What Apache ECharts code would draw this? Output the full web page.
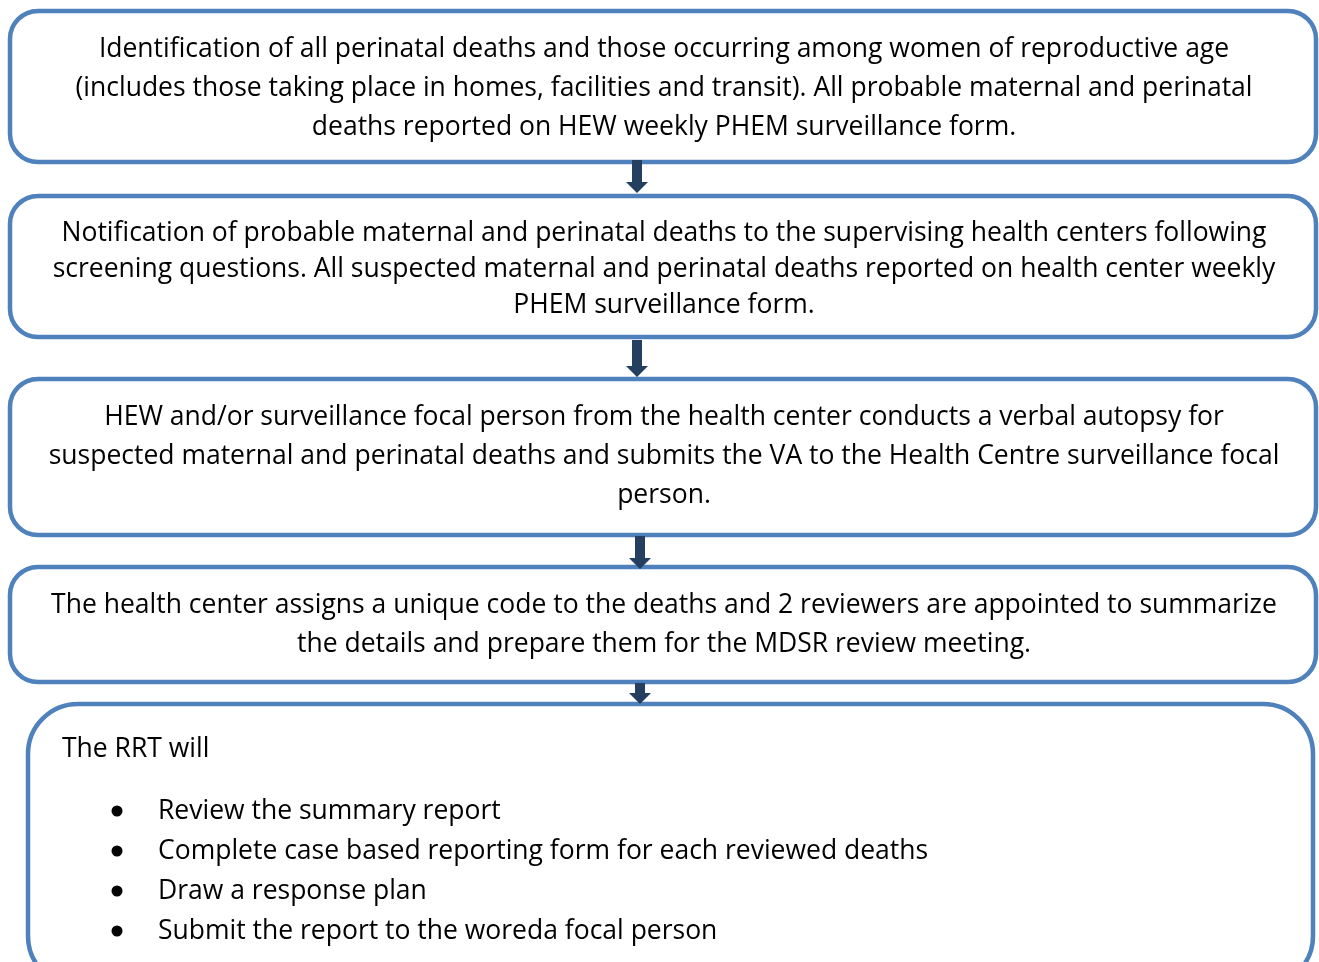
<!DOCTYPE html>
<html>
<head>
<meta charset="utf-8">
<script src="https://cdn.jsdelivr.net/npm/echarts@6/dist/echarts.min.js"></script>
<style>
html, body { margin: 0; padding: 0; background: #fff; }
#main { width: 1319px; height: 962px; }
</style>
</head>
<body>
<div id="main"></div>
<script>
// step texts, one array of lines per box
var step1 = [
    'Identification of all perinatal deaths and those occurring among women of reproductive age',
    '(includes those taking place in homes, facilities and transit). All probable maternal and perinatal',
    'deaths reported on HEW weekly PHEM surveillance form.'
];
var step2 = [
    'Notification of probable maternal and perinatal deaths to the supervising health centers following',
    'screening questions. All suspected maternal and perinatal deaths reported on health center weekly',
    'PHEM surveillance form.'
];
var step3 = [
    'HEW and/or surveillance focal person from the health center conducts a verbal autopsy for',
    'suspected maternal and perinatal deaths and submits the VA to the Health Centre surveillance focal',
    'person.'
];
var step4 = [
    'The health center assigns a unique code to the deaths and 2 reviewers are appointed to summarize',
    'the details and prepare them for the MDSR review meeting.'
];
var lastTitle = 'The RRT will';
var lastItems = [
    'Review the summary report',
    'Complete case based reporting form for each reviewed deaths',
    'Draw a response plan',
    'Submit the report to the woreda focal person'
];

var chart = echarts.init(document.getElementById('main'));

var boxColor = '#4F81BD';
var arrowColor = '#243F60';
var font = '"Open Sans"';
var fontSize = 26.5;

// box frames: [x, y, w, h, radius, first text line y, line gap]
var frames = [
    [10, 11, 1306, 151, 28, 49, 39],
    [10, 196, 1306, 141, 28, 233, 36],
    [10, 379, 1306, 156, 28, 417, 39],
    [10, 567, 1306, 115, 28, 605, 39]
];
var steps = [step1, step2, step3, step4];
// arrows: [x, top, bottom]
var arrows = [
    [637, 160, 193],
    [637, 340, 377],
    [640, 536, 569],
    [640, 683, 704]
];

var elements = [];

frames.forEach(function (f, i) {
    elements.push({
        type: 'rect',
        shape: { x: f[0], y: f[1], width: f[2], height: f[3], r: f[4] },
        style: { fill: '#fff', stroke: boxColor, lineWidth: 4.5 }
    });
    steps[i].forEach(function (line, j) {
        elements.push({
            type: 'text',
            x: f[0] + f[2] / 2 + 1,
            y: f[5] + j * f[6],
            style: {
                text: line, fill: '#000', font: fontSize + 'px ' + font,
                align: 'center', verticalAlign: 'middle'
            }
        });
    });
});

// last box, cut off at the bottom of the picture
elements.push({
    type: 'rect',
    shape: { x: 28, y: 704, width: 1285, height: 282, r: 50 },
    style: { fill: '#fff', stroke: boxColor, lineWidth: 4.5 }
});
elements.push({
    type: 'text', x: 62, y: 749,
    style: { text: lastTitle, fill: '#000', font: fontSize + 'px ' + font, verticalAlign: 'middle' }
});
lastItems.forEach(function (item, j) {
    var y = 811 + j * 40;
    elements.push({
        type: 'circle',
        shape: { cx: 117, cy: y, r: 5.5 },
        style: { fill: '#000' }
    });
    elements.push({
        type: 'text', x: 158, y: y,
        style: { text: item, fill: '#000', font: fontSize + 'px ' + font, verticalAlign: 'middle' }
    });
});

arrows.forEach(function (a) {
    var x = a[0], top = a[1], bot = a[2];
    var headTop = bot - 11;
    elements.push({
        type: 'polygon',
        shape: {
            points: [
                [x - 5, top], [x + 5, top], [x + 5, headTop], [x + 11, headTop],
                [x, bot], [x - 11, headTop], [x - 5, headTop]
            ]
        },
        style: { fill: arrowColor },
        z: 10
    });
});

chart.setOption({
    backgroundColor: '#fff',
    graphic: { elements: elements }
});
</script>
</body>
</html>
